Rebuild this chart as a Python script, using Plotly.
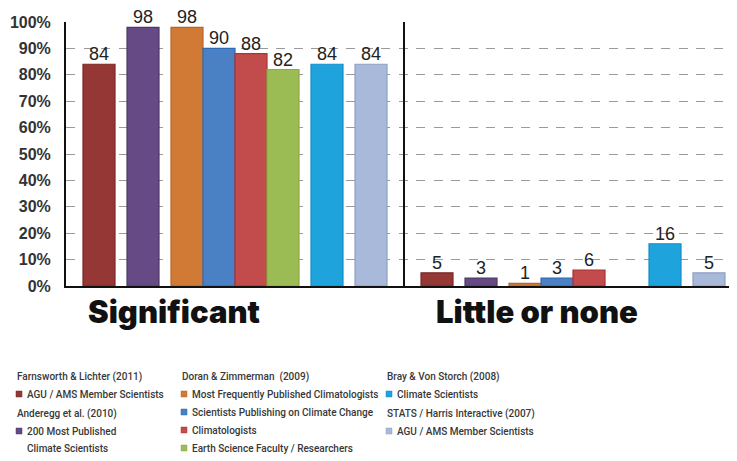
import plotly.graph_objects as go

# ---------------- data ----------------
categories = ["Significant", "Little or none"]
study_names = ["Farnsworth & Lichter (2011)", "Anderegg et al. (2010)",
               "Doran & Zimmerman  (2009)", "Bray & Von Storch (2008)",
               "STATS / Harris Interactive (2007)"]
series_labels = ["AGU / AMS Member Scientists",
                 "200 Most Published<br>Climate Scientists",
                 "Most Frequently Published Climatologists",
                 "Scientists Publishing on Climate Change",
                 "Climatologists",
                 "Earth Science Faculty / Researchers",
                 "Climate Scientists",
                 "AGU / AMS Member Scientists"]
series_study = [0, 1, 2, 2, 2, 2, 3, 4]
significant = [84, 98, 98, 90, 88, 82, 84, 84]
little_or_none = [5, 3, 1, 3, 6, None, 16, 5]
y_ticks = [0, 10, 20, 30, 40, 50, 60, 70, 80, 90, 100]
y_tick_labels = ["0%", "10%", "20%", "30%", "40%", "50%", "60%", "70%", "80%", "90%", "100%"]

# ---------------- style ----------------
colors = ["#953735", "#664a85", "#d17a35", "#4a80c4", "#c24c4c", "#9bbb55", "#1ea3dc", "#a8b9da"]
edges = ["#7a2826", "#4f3a66", "#b8652a", "#2f6bb5", "#b03030", "#8aab45", "#1390c8", "#8fa0c4"]

# the page body adds an 8px margin, so the figure is sized to fill the rest of the window
OFF = 8
W, H = 737 - OFF, 461 - OFF
AX_L, AX_T, AX_B = 66, 22, 286          # axis box in window pixels
L, R, T, B = AX_L - OFF, 0, AX_T - OFF, H - (AX_B - OFF)
plot_w = W - L - R
plot_h = H - T - B
unit_px = 338.0  # pixels per category
x_range = [-0.5, -0.5 + plot_w / unit_px]

bar_w = 32.0 / unit_px
gap = 12.0 / unit_px
# bars of the same study touch, different studies separated by a gap
offsets = []
pos = 0.0
for i in range(len(series_study)):
    if i > 0 and series_study[i] != series_study[i - 1]:
        pos += gap
    offsets.append(pos)
    pos += bar_w
total = pos
offsets = [o - total / 2 for o in offsets]

annotations = []
fig = go.Figure()
for i in range(len(series_labels)):
    vals = [significant[i], little_or_none[i]]
    fig.add_trace(go.Bar(
        x=categories, y=vals,
        offset=offsets[i], width=bar_w,
        marker=dict(color=colors[i], line=dict(color=edges[i], width=1.2)),
        showlegend=False,
        name=series_labels[i].replace("<br>", " "),
    ))
    # value labels above the bars
    for k, v in enumerate(vals):
        if v is None:
            continue
        annotations.append(dict(
            x=categories[k], y=v, xref="x", yref="y",
            xshift=(offsets[i] + bar_w / 2) * unit_px, yshift=-2,
            xanchor="center", yanchor="bottom", showarrow=False,
            text=str(v), font=dict(family="Liberation Sans, Arial", size=18, color="#222222"),
        ))

# category labels
cat_shift = [-61, -36]
for k, c in enumerate(categories):
    annotations.append(dict(
        x=c, y=0, xref="x", yref="y", xanchor="center", yanchor="top",
        yshift=-5, xshift=cat_shift[k], showarrow=False,
        text=c, font=dict(family="Inter, Liberation Sans, Arial", size=31, color="#111111", weight=900),
    ))

# custom legend (text annotations + small squares)
def px_to_paper(px, py):
    return (px - OFF - L) / plot_w, (H - B - (py - OFF)) / plot_h

legend_cols = [[0, 1], [2], [3, 4]]
col_x = [15, 180, 385]
legend_font = dict(family="Roboto, Liberation Sans, sans-serif", size=10, color="#383838", weight=500)
shapes = []
for ci, studies in enumerate(legend_cols):
    y = 377
    for s in studies:
        hx, hy = px_to_paper(col_x[ci], y)
        annotations.append(dict(x=hx, y=hy, xref="paper", yref="paper", xanchor="left", yanchor="middle",
                                showarrow=False, text=study_names[s], font=legend_font))
        y += 17
        for i in range(len(series_labels)):
            if series_study[i] != s:
                continue
            sx0, sy0 = px_to_paper(col_x[ci] + 1, y - 3)
            sx1, sy1 = px_to_paper(col_x[ci] + 7, y + 3)
            shapes.append(dict(type="rect", xref="paper", yref="paper", x0=sx0, x1=sx1, y0=sy1, y1=sy0,
                               fillcolor=colors[i], line=dict(color=edges[i], width=0.5)))
            for line in series_labels[i].split("<br>"):
                tx, ty = px_to_paper(col_x[ci] + 10, y)
                annotations.append(dict(x=tx, y=ty, xref="paper", yref="paper", xanchor="left",
                                        yanchor="middle", showarrow=False, text=line, font=legend_font))
                y += 17
            y += 1
        y += 2

# divider line between categories
shapes.append(dict(type="line", xref="x", yref="paper", x0=0.5, x1=0.5, y0=0, y1=1,
                   line=dict(color="#111111", width=2)))

fig.update_layout(
    width=W, height=H,
    margin=dict(l=L, r=R, t=T, b=B),
    paper_bgcolor="white", plot_bgcolor="white",
    barmode="overlay",
    annotations=annotations,
    shapes=shapes,
    xaxis=dict(type="category", range=x_range, showticklabels=False, ticks="",
               showgrid=False, showline=True, linecolor="#111111", linewidth=2, zeroline=False,
               fixedrange=True),
    yaxis=dict(range=[0, 100], tickvals=y_ticks, ticktext=y_tick_labels, ticks="",
               tickfont=dict(family="Liberation Sans, Arial", size=16, color="#333333", weight="bold"),
               ticklabelstandoff=10,
               showgrid=True, gridcolor="#9a9a9a", gridwidth=1.2, griddash="9px,8.5px",
               showline=True, linecolor="#111111", linewidth=2, zeroline=False),
)

fig.write_html("out.html")
